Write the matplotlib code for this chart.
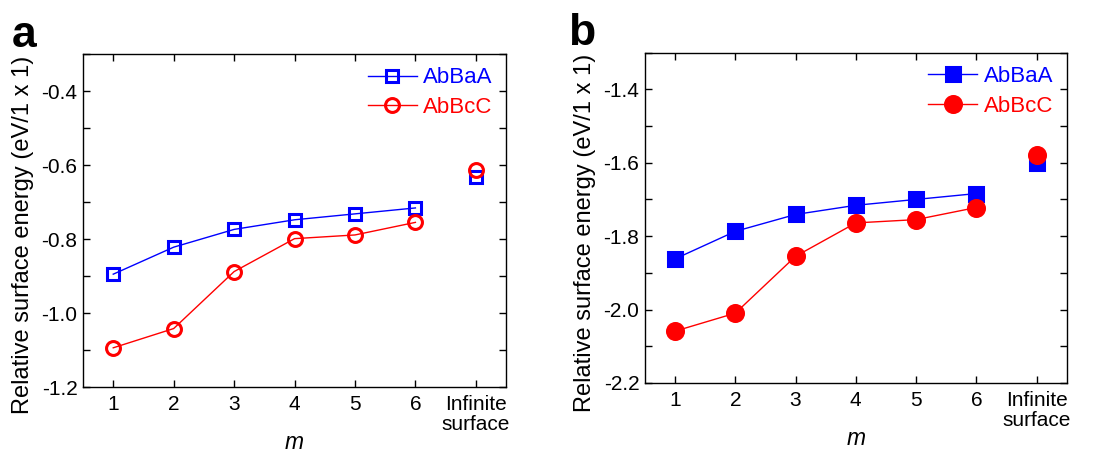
import matplotlib
matplotlib.use("Agg")
import matplotlib.pyplot as plt
from matplotlib.ticker import MultipleLocator

plt.rcParams['font.family'] = ['Liberation Sans', 'DejaVu Sans']

x_pos = [1, 2, 3, 4, 5, 6, 7]
x_labels = ['1', '2', '3', '4', '5', '6', 'Infinite\nsurface']

a_abbaa = [-0.895, -0.822, -0.774, -0.748, -0.732, -0.716]
a_abbaa_inf = -0.633
a_abbcc = [-1.094, -1.042, -0.888, -0.799, -0.789, -0.755]
a_abbcc_inf = -0.614

b_abbaa = [-1.862, -1.787, -1.741, -1.716, -1.700, -1.684]
b_abbaa_inf = -1.602
b_abbcc = [-2.059, -2.010, -1.855, -1.764, -1.755, -1.722]
b_abbcc_inf = -1.580

blue = '#0000ff'
red = '#ff0000'

fig = plt.figure(figsize=(11.1, 4.58), dpi=100)
ax_a = fig.add_axes([0.0748, 0.155, 0.3811, 0.727])
ax_b = fig.add_axes([0.581, 0.164, 0.380, 0.721])


def draw(ax, s1, s1inf, s2, s2inf, filled, ylim, yticks, letter, lx, ly, lab_xy):
    ms_sq = 9 if not filled else 10.5
    ms_ci = 10 if not filled else 11.5
    fc1 = 'none' if not filled else blue
    fc2 = 'none' if not filled else red
    ax.plot(x_pos[:6], s1, '-', color=blue, lw=1.0, marker='s', ms=ms_sq,
            mfc=fc1, mec=blue, mew=2.2, label='AbBaA', zorder=3)
    ax.plot(x_pos[:6], s2, '-', color=red, lw=1.0, marker='o', ms=ms_ci,
            mfc=fc2, mec=red, mew=2.2, label='AbBcC', zorder=3)
    ax.plot([x_pos[6]], [s1inf], ls='none', marker='s', ms=ms_sq,
            mfc=fc1, mec=blue, mew=2.2, zorder=3)
    ax.plot([x_pos[6]], [s2inf], ls='none', marker='o', ms=ms_ci,
            mfc=fc2, mec=red, mew=2.2, zorder=4)
    ax.set_xlim(0.5, 7.5)
    ax.set_ylim(*ylim)
    ax.set_xticks(x_pos)
    ax.set_xticklabels(x_labels, fontsize=15, linespacing=1.05)
    ax.set_yticks(yticks)
    ax.set_yticklabels(['%.1f' % v for v in yticks], fontsize=15)
    ax.yaxis.set_minor_locator(MultipleLocator(0.1))
    ax.tick_params(which='both', direction='in', top=True, right=True,
                   length=5, width=1.0)
    ax.tick_params(axis='x', pad=6)
    ax.tick_params(axis='y', pad=4)
    for sp in ax.spines.values():
        sp.set_linewidth(1.0)
    ax.set_xlabel('m', fontsize=16.5, style='italic', labelpad=-2)
    ax.set_ylabel('Relative surface energy (eV/1 x 1)', fontsize=17)
    ax.yaxis.set_label_coords(*lab_xy)
    leg = ax.legend(loc='upper right', frameon=False, fontsize=16,
                    handlelength=2.2, handletextpad=0.3, borderaxespad=0.2,
                    labelspacing=0.4)
    for t, c in zip(leg.get_texts(), [blue, red]):
        t.set_color(c)
    fig.text(lx, ly, letter, fontsize=32, fontweight='bold', ha='left', va='baseline')


draw(ax_a, a_abbaa, a_abbaa_inf, a_abbcc, a_abbcc_inf, False,
     (-1.2, -0.3), [-1.2, -1.0, -0.8, -0.6, -0.4], 'a', 0.011, 0.897,
     (-0.115, 0.456))
draw(ax_b, b_abbaa, b_abbaa_inf, b_abbcc, b_abbcc_inf, True,
     (-2.2, -1.3), [-2.2, -2.0, -1.8, -1.6, -1.4], 'b', 0.512, 0.902,
     (-0.116, 0.453))

fig.savefig('out.png', dpi=100)
